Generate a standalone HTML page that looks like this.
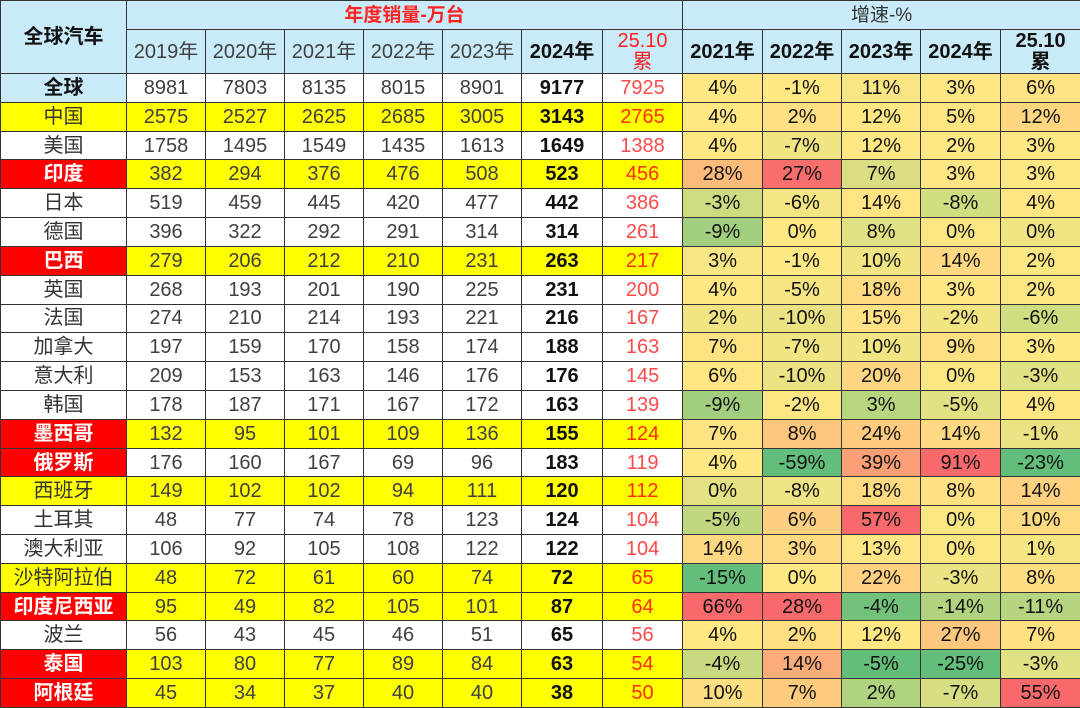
<!DOCTYPE html>
<html><head><meta charset="utf-8">
<style>
html,body{margin:0;padding:0;background:#fff;}
table{border-collapse:collapse;table-layout:fixed;width:1080px;height:708px;font-family:"Liberation Sans","Noto Sans CJK SC",sans-serif;}
td{border:1px solid #333;text-align:center;padding:0;font-size:20px;color:#404040;overflow:hidden;white-space:nowrap;line-height:1;}
.h{background:#c9ebf9;}
.hn{font-weight:bold;color:#111;font-size:20px;}
.red{color:#ff2020;}
.nm{color:#333;}
.b{font-weight:bold;color:#111;}
.r{color:#ff4a4a;}
.y{background:#ffff00;}
.y.r{color:#ff3000;}
.rn{background:#ff0000;color:#fff;font-weight:bold;}
.g{color:#111;}
.hb{font-weight:bold;color:#111;}
</style></head><body>
<table id="t">
<colgroup><col style="width:126px"><col style="width:79px"><col style="width:79px"><col style="width:79px"><col style="width:79px"><col style="width:79px"><col style="width:81px"><col style="width:80px"><col style="width:80px"><col style="width:79px"><col style="width:79px"><col style="width:80px"><col style="width:80px"></colgroup>
<tr style="height:29px"><td class="h hn" rowspan="2">全球汽车</td><td class="h red" colspan="7" style="font-weight:bold;font-size:19px">年度销量-万台</td><td class="h" colspan="5" style="color:#333;font-size:19px">增速-%</td></tr>
<tr style="height:44px"><td class="h">2019年</td><td class="h">2020年</td><td class="h">2021年</td><td class="h">2022年</td><td class="h">2023年</td><td class="h hb">2024年</td><td class="h red" style="line-height:1.05">25.10<br>累</td><td class="h hb">2021年</td><td class="h hb">2022年</td><td class="h hb">2023年</td><td class="h hb">2024年</td><td class="h hb" style="line-height:1.05">25.10<br>累</td></tr>
</table>
<script>
var D=[
["全球",0,0,[8981,7803,8135,8015,8901,9177,7925],[4,-1,11,3,6]],
["中国",1,0,[2575,2527,2625,2685,3005,3143,2765],[4,2,12,5,12]],
["美国",0,0,[1758,1495,1549,1435,1613,1649,1388],[4,-7,12,2,3]],
["印度",1,1,[382,294,376,476,508,523,456],[28,27,7,3,3]],
["日本",0,0,[519,459,445,420,477,442,386],[-3,-6,14,-8,4]],
["德国",0,0,[396,322,292,291,314,314,261],[-9,0,8,0,0]],
["巴西",1,1,[279,206,212,210,231,263,217],[3,-1,10,14,2]],
["英国",0,0,[268,193,201,190,225,231,200],[4,-5,18,3,2]],
["法国",0,0,[274,210,214,193,221,216,167],[2,-10,15,-2,-6]],
["加拿大",0,0,[197,159,170,158,174,188,163],[7,-7,10,9,3]],
["意大利",0,0,[209,153,163,146,176,176,145],[6,-10,20,0,-3]],
["韩国",0,0,[178,187,171,167,172,163,139],[-9,-2,3,-5,4]],
["墨西哥",1,1,[132,95,101,109,136,155,124],[7,8,24,14,-1]],
["俄罗斯",0,1,[176,160,167,69,96,183,119],[4,-59,39,91,-23]],
["西班牙",1,0,[149,102,102,94,111,120,112],[0,-8,18,8,14]],
["土耳其",0,0,[48,77,74,78,123,124,104],[-5,6,57,0,10]],
["澳大利亚",0,0,[106,92,105,108,122,122,104],[14,3,13,0,1]],
["沙特阿拉伯",1,0,[48,72,61,60,74,72,65],[-15,0,22,-3,8]],
["印度尼西亚",1,1,[95,49,82,105,101,87,64],[66,28,-4,-14,-11]],
["波兰",0,0,[56,43,45,46,51,65,56],[4,2,12,27,7]],
["泰国",1,1,[103,80,77,89,84,63,54],[-4,14,-5,-25,-3]],
["阿根廷",1,1,[45,34,37,40,40,38,50],[10,7,2,-7,55]]];
var G=[99,190,123],Y=[255,232,132],R=[248,105,107];
function mix(a,b,t){t=Math.max(0,Math.min(1,t));return 'rgb('+a.map(function(v,i){return Math.round(v+(b[i]-v)*t)}).join(',')+')';}
var cols=[];for(var c=0;c<5;c++){var v=D.map(function(r){return r[4][c]}).sort(function(a,b){return a-b});cols.push([v[0],v[10]/2+v[11]/2,v[21]]);}
var t=document.getElementById('t'),h='';
D.forEach(function(r,i){
 var nc=r[2]?'rn':(i==0?'h hb':(r[1]?'y nm':'nm'));
 h+='<tr style="height:28.8px"><td class="'+nc+'">'+r[0]+'</td>';
 r[3].forEach(function(v,j){var cl=(r[1]?'y ':'')+(j==5?'b':(j==6?'r':''));h+='<td class="'+cl+'">'+v+'</td>';});
 r[4].forEach(function(v,j){var s=cols[j],bg;if(v<=s[1])bg=mix(G,Y,Math.pow((v-s[0])/((s[1]-s[0])||1),0.8));else bg=mix(Y,R,Math.pow((v-s[1])/((s[2]-s[1])||1),1.1));h+='<td class="g" style="background:'+bg+'">'+v+'%</td>';});
 h+='</tr>';});
t.insertAdjacentHTML('beforeend',h);
</script>
</body></html>
